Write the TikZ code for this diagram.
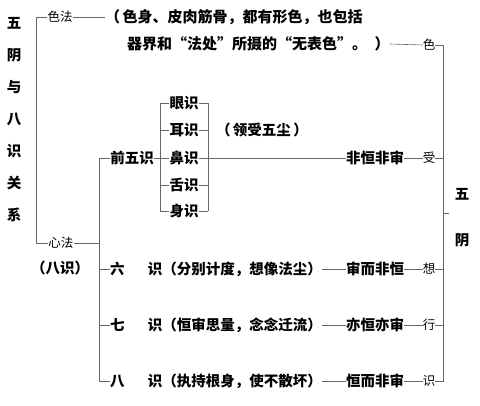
\documentclass[tikz,border=0pt]{standalone}
\usepackage{fontspec}
\newfontfamily\cjk{Noto Sans CJK SC}
\begin{document}
\begin{tikzpicture}[x=1pt,y=-1pt,
  main/.style={font=\cjk\bfseries\fontsize{14.5}{14.5}\selectfont, inner sep=0pt},
  big/.style={font=\cjk\bfseries\fontsize{15}{15}\selectfont, inner sep=0pt},
  lab/.style={font=\cjk\fontsize{12.5}{12.5}\selectfont, inner sep=0pt},
  ln/.style={draw=black!60, line width=0.6pt}]
\useasboundingbox (0,0) rectangle (480,406);
% title
\foreach \c [count=\i] in {五,阴,与,八,识,关,系}
  \node[main] (t\i) at (14,{23+32*(\i-1)}) {\c};
% left bracket
\node[lab] (sefa) at (60,17) {色法};
\node[lab] (xinfa) at (61,243) {心法};
\node[main] (bashi) at (60,268) {（八识）};
\draw[ln] (sefa.west) -- ++(-11,0) |- (xinfa.west);
% description of se fa
\node[big,anchor=west] (d1) at (105,17) {（\,色身、皮肉筋骨，都有形色，也包括};
\node[big,anchor=west] (d2) at (127,44) {器界和“法处”所摄的“无表色”。\enspace）};
\node[lab] (se) at (429,45) {色};
\draw[ln] (sefa.east) -- (d1.west);
\draw[ln] (d2.east) -- (se.west);
% spine of xin fa
\coordinate (spine) at (99,0);
\node[main] (qw) at (132,158) {前五识};
\node[main,anchor=west] (r6) at (110,269) {六\hspace{1.6em}识（分别计度，想像法尘）};
\node[main,anchor=west] (r7) at (110,325) {七\hspace{1.6em}识（恒审思量，念念迁流）};
\node[main,anchor=west] (r8) at (110,381) {八\hspace{1.6em}识（执持根身，使不散坏）};
\draw[ln] (xinfa.east) -- (xinfa.east -| spine);
\draw[ln] (qw.west -| spine) -- (r8.west -| spine);
\foreach \n in {qw,r6,r7,r8} \draw[ln] (\n.west) -- (\n.west -| spine);
% five consciousnesses
\coordinate (fl) at (160,0);
\coordinate (fr) at (208,0);
\node[main] (e1) at (184,103) {眼识};
\node[main] (e2) at (184,130) {耳识};
\node[main] (e3) at (184,158) {鼻识};
\node[main] (e4) at (184,185) {舌识};
\node[main] (e5) at (184,211) {身识};
\draw[ln] (e1.west -| fl) -- (e5.west -| fl);
\draw[ln] (e1.east -| fr) -- (e5.east -| fr);
\foreach \i in {1,...,5} {
  \draw[ln] (e\i.west) -- (e\i.west -| fl);
  \draw[ln] (e\i.east) -- (e\i.east -| fr);
}
\draw[ln] (qw.east) -- (qw.east -| fl);
\node[main] (ls) at (262,130) {（\,领受五尘\,）};
% middle labels
\node[main] (m1) at (375,158) {非恒非审};
\node[main] (m2) at (375,269) {审而非恒};
\node[main] (m3) at (375,325) {亦恒亦审};
\node[main] (m4) at (375,381) {恒而非审};
\draw[ln] (e3.east -| fr) -- (m1.west);
\draw[ln] (r6.east) -- (m2.west);
\draw[ln] (r7.east) -- (m3.west);
\draw[ln] (r8.east) -- (m4.west);
% five aggregates
\coordinate (rb) at (443,0);
\node[lab] (a1) at (429,158) {受};
\node[lab] (a2) at (429,269) {想};
\node[lab] (a3) at (429,325) {行};
\node[lab] (a4) at (429,381) {识};
\draw[ln] (m1.east) -- (a1.west);
\draw[ln] (m2.east) -- (a2.west);
\draw[ln] (m3.east) -- (a3.west);
\draw[ln] (m4.east) -- (a4.west);
\draw[ln] (se.east) -- (se.east -| rb) -- (a4.east -| rb) -- (a4.east);
\foreach \n in {a1,a2,a3} \draw[ln] (\n.east) -- (\n.east -| rb);
\coordinate (mid) at (443,213);
\node[main] (w1) at (462,194) {五};
\node[main] (w2) at (462,240) {阴};
\draw[ln] (mid) -- ++(6,0);
\end{tikzpicture}
\end{document}
